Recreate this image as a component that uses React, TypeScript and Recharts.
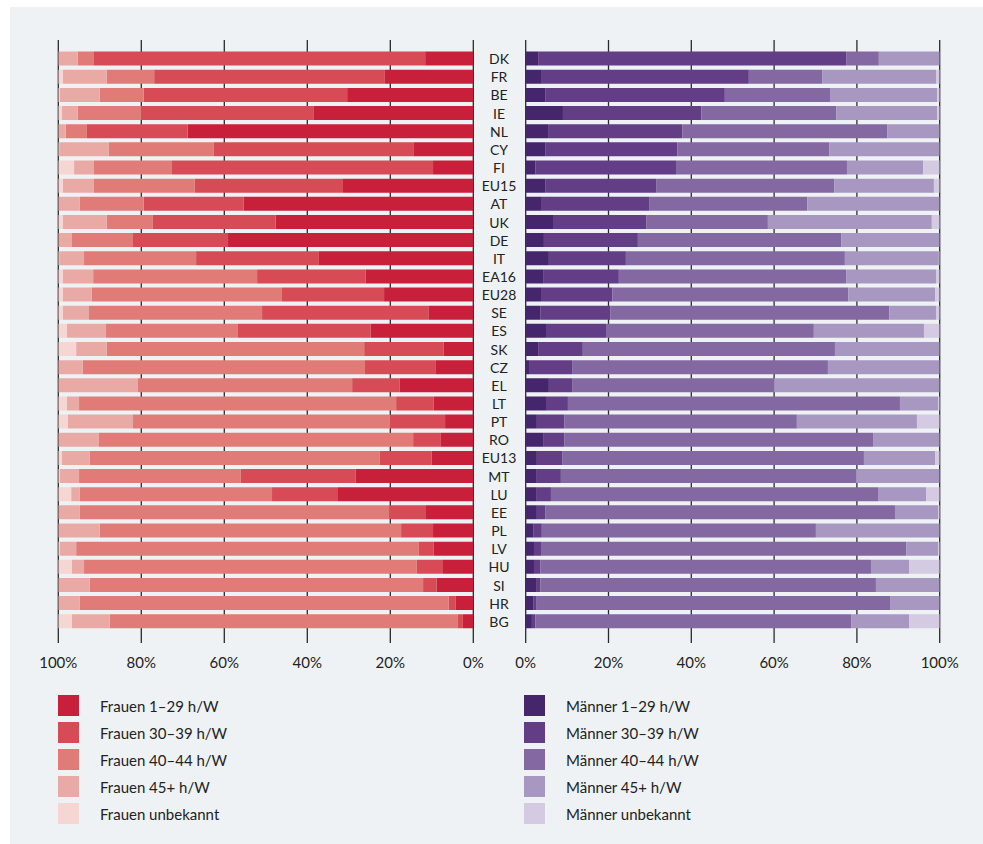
import React from 'react';
import { BarChart, Bar, XAxis, YAxis, CartesianGrid } from 'recharts';

const countries = ['DK', 'FR', 'BE', 'IE', 'NL', 'CY', 'FI', 'EU15', 'AT', 'UK', 'DE', 'IT', 'EA16', 'EU28', 'SE', 'ES', 'SK', 'CZ', 'EL', 'LT', 'PT', 'RO', 'EU13', 'MT', 'LU', 'EE', 'PL', 'LV', 'HU', 'SI', 'HR', 'BG'];

// Frauen, Anteile in %
const f1 = [11.6, 21.3, 30.4, 38.4, 68.8, 14.3, 9.7, 31.4, 55.3, 47.6, 59.1, 37.2, 25.9, 21.5, 10.7, 24.7, 7.1, 9.0, 17.7, 9.5, 6.8, 7.8, 10.0, 28.3, 32.6, 11.4, 9.7, 9.5, 7.3, 8.8, 4.2, 2.5];
const f2 = [79.8, 55.6, 49.0, 41.7, 24.3, 48.2, 62.9, 35.7, 24.1, 29.6, 22.9, 29.6, 26.2, 24.6, 40.2, 32.0, 19.2, 17.1, 11.5, 9.1, 13.3, 6.7, 12.5, 27.7, 15.9, 8.9, 7.7, 3.6, 6.3, 3.3, 1.7, 1.2];
const f3 = [3.9, 11.4, 10.6, 15.2, 5.1, 25.3, 18.8, 24.3, 15.4, 11.1, 14.7, 27.0, 39.5, 45.8, 41.7, 31.8, 62.0, 68.0, 51.6, 76.4, 61.9, 75.7, 69.9, 39.0, 46.3, 74.5, 72.6, 82.6, 80.2, 80.3, 88.9, 83.9];
const f4 = [4.7, 10.6, 9.6, 3.8, 1.8, 12.0, 4.8, 7.5, 5.2, 10.6, 3.3, 6.0, 7.3, 7.0, 6.3, 9.4, 7.4, 5.9, 19.2, 2.9, 15.7, 9.8, 6.7, 4.6, 2.1, 5.2, 10.0, 3.9, 2.9, 7.6, 5.2, 9.1];
const f5 = [0, 1.1, 0.4, 0.9, 0, 0.2, 3.8, 1.1, 0, 1.1, 0, 0.2, 1.1, 1.1, 1.1, 2.1, 4.3, 0, 0, 2.1, 2.3, 0, 0.9, 0.4, 3.1, 0, 0, 0.4, 3.3, 0, 0, 3.3];

// Männer, Anteile in %
const m1 = [3.0, 3.9, 4.7, 9.0, 5.4, 4.7, 2.3, 4.7, 3.9, 6.8, 4.4, 5.6, 4.2, 3.7, 3.5, 4.9, 3.0, 0.8, 5.6, 4.9, 2.7, 4.2, 2.7, 2.5, 2.5, 2.7, 1.8, 2.0, 2.0, 2.5, 1.8, 1.5];
const m2 = [74.4, 50.0, 43.4, 33.4, 32.4, 31.9, 34.0, 26.8, 25.9, 22.3, 22.7, 18.6, 18.3, 17.2, 16.9, 14.5, 10.8, 10.4, 5.6, 5.3, 6.6, 5.1, 6.1, 6.0, 3.6, 2.0, 2.1, 1.7, 1.5, 1.0, 0.7, 0.8];
const m3 = [7.9, 17.7, 25.4, 32.6, 49.5, 36.7, 41.3, 43.0, 38.2, 29.4, 49.1, 52.9, 54.9, 57.0, 67.4, 50.2, 60.9, 61.8, 48.8, 80.2, 56.2, 74.6, 72.9, 71.3, 79.0, 84.5, 66.2, 88.2, 79.9, 81.1, 85.5, 76.3];
const m4 = [14.7, 27.5, 25.9, 24.4, 12.7, 26.7, 18.4, 24.1, 32.0, 39.6, 23.8, 22.7, 21.7, 21.0, 11.3, 26.6, 25.3, 27.0, 40.0, 9.2, 29.0, 16.1, 17.2, 20.2, 11.6, 10.4, 29.9, 7.7, 9.2, 15.4, 12.0, 14.0];
const m5 = [0, 0.9, 0.6, 0.6, 0, 0, 4.0, 1.4, 0, 1.9, 0, 0.2, 0.9, 1.1, 0.9, 3.8, 0, 0, 0, 0.4, 5.5, 0, 1.1, 0, 3.3, 0.4, 0, 0.4, 7.4, 0, 0, 7.4];

const ticks = [0, 20, 40, 60, 80, 100];

const frauenKeys = ['f1', 'f2', 'f3', 'f4', 'f5'];
const frauenLabels = ['Frauen 1–29 h/W', 'Frauen 30–39 h/W', 'Frauen 40–44 h/W', 'Frauen 45+ h/W', 'Frauen unbekannt'];
const frauenColors = ['#c81f3a', '#d64b56', '#e07b78', '#e9aaa6', '#f5d6d3'];

const maennerKeys = ['m1', 'm2', 'm3', 'm4', 'm5'];
const maennerLabels = ['Männer 1–29 h/W', 'Männer 30–39 h/W', 'Männer 40–44 h/W', 'Männer 45+ h/W', 'Männer unbekannt'];
const maennerColors = ['#45266c', '#633d85', '#8468a1', '#a797c1', '#d4cae1'];

const data = countries.map((country, i) => ({
  country,
  f1: f1[i], f2: f2[i], f3: f3[i], f4: f4[i], f5: f5[i],
  m1: m1[i], m2: m2[i], m3: m3[i], m4: m4[i], m5: m5[i],
}));

const FONT = 'Lato, "Open Sans", sans-serif';
const TEXT = '#222';

const PercentTick = (props: any) => {
  const { x, y, payload } = props;
  return (
    <text x={x} y={y + 19} textAnchor="middle" dominantBaseline="central" fontSize={15} fill={TEXT} fontFamily={FONT}>
      {payload.value}%
    </text>
  );
};

const CountryTick = (props: any) => {
  const { y, payload } = props;
  return (
    <text x={25} y={y} textAnchor="middle" dominantBaseline="central" fontSize={14} fill={TEXT} fontFamily={FONT}>
      {payload.value}
    </text>
  );
};

const LegendBlock = ({ labels, colors, left }: { labels: string[]; colors: string[]; left: number }) => (
  <div style={{ position: 'absolute', left, top: 695 }}>
    {labels.map((label, i) => (
      <div key={label} style={{ display: 'flex', alignItems: 'center', height: 27 }}>
        <div style={{ width: 21, height: 21, background: colors[i], marginRight: 21, marginTop: -6 }} />
        <span style={{ fontSize: 15, color: TEXT, fontFamily: FONT, marginTop: -6 }}>{label}</span>
      </div>
    ))}
  </div>
);

export default function App() {
  return (
    <div style={{ position: 'fixed', left: 0, top: 0, width: 983, height: 844, background: '#fff', overflow: 'hidden' }}>
      <div style={{ position: 'absolute', left: 10, top: 7, right: 0, bottom: 0, background: '#eef2f5' }} />

      <div style={{ position: 'absolute', left: 0, top: 0 }}>
        <BarChart
          width={500}
          height={700}
          data={data}
          layout="vertical"
          margin={{ top: 40, left: 58.3, right: 26.7, bottom: 17 }}
        >
          <CartesianGrid horizontal={false} stroke="#2a2a2a" strokeWidth={1.3} />
          <XAxis
            type="number"
            domain={[0, 100]}
            ticks={ticks}
            reversed
            allowDataOverflow
            axisLine={false}
            tickLine={false}
            tickSize={0}
            tickMargin={0}
            height={40}
            tick={<PercentTick />}
          />
          <YAxis type="category" dataKey="country" hide padding={{ top: 9.6, bottom: 12.6 }} />
          {frauenKeys.map((k, i) => (
            <Bar key={k} dataKey={k} stackId="f" fill={frauenColors[i]} barSize={14} isAnimationActive={false} />
          ))}
        </BarChart>
      </div>

      <div style={{ position: 'absolute', left: 474, top: 0 }}>
        <BarChart
          width={509}
          height={700}
          data={data}
          layout="vertical"
          margin={{ top: 40, left: 0, right: 43.3, bottom: 17 }}
        >
          <CartesianGrid horizontal={false} stroke="#2a2a2a" strokeWidth={1.3} />
          <XAxis
            type="number"
            domain={[0, 100]}
            ticks={ticks}
            allowDataOverflow
            axisLine={false}
            tickLine={false}
            tickSize={0}
            tickMargin={0}
            height={40}
            tick={<PercentTick />}
          />
          <YAxis
            type="category"
            dataKey="country"
            width={51.7}
            axisLine={false}
            tickLine={false}
            interval={0}
            padding={{ top: 9.6, bottom: 12.6 }}
            tick={<CountryTick />}
          />
          {maennerKeys.map((k, i) => (
            <Bar key={k} dataKey={k} stackId="m" fill={maennerColors[i]} barSize={14} isAnimationActive={false} />
          ))}
        </BarChart>
      </div>

      <LegendBlock labels={frauenLabels} colors={frauenColors} left={58} />
      <LegendBlock labels={maennerLabels} colors={maennerColors} left={524} />
    </div>
  );
}
